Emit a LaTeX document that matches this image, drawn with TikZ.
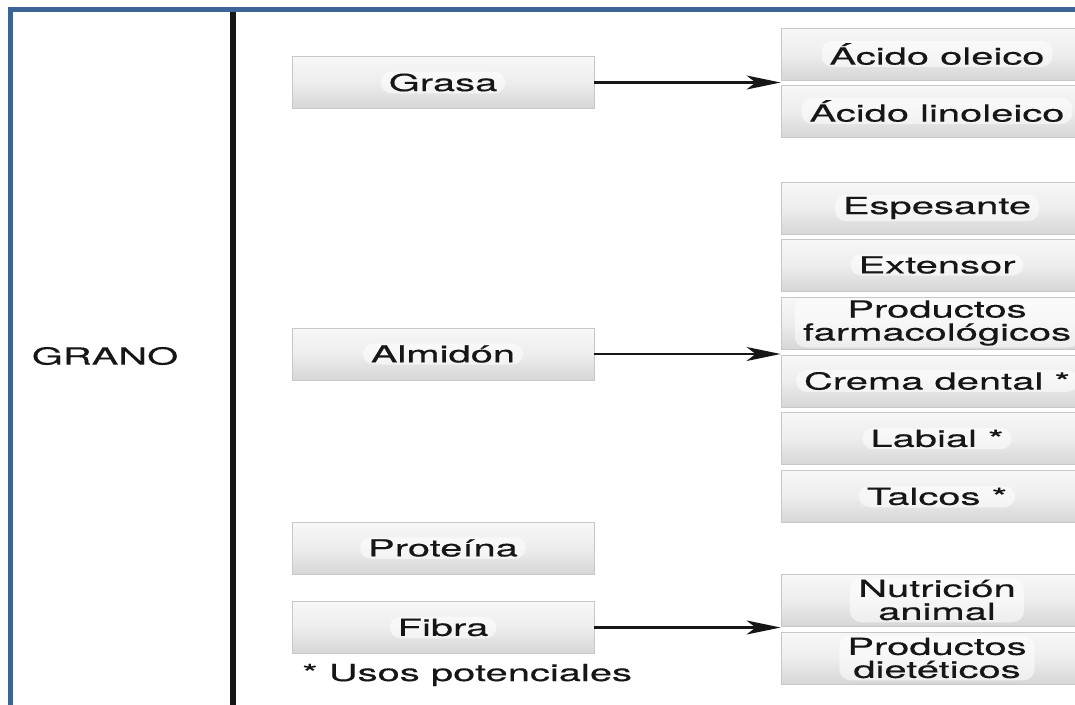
\documentclass[tikz,border=0pt]{standalone}
\usepackage{fontspec}
\setmainfont[FakeStretch=1.7, FakeBold=0.35]{TeX Gyre Heros}
\usetikzlibrary{arrows.meta}
\definecolor{framebl}{RGB}{60,100,150}
\definecolor{boxedge}{RGB}{200,200,200}
\definecolor{ink}{RGB}{22,22,22}

\tikzset{
  itembox/.style={rectangle, draw=boxedge, line width=0.8pt,
    top color=white!97!black, bottom color=white!84!black,
    middle color=white!93!black,
    minimum height=52pt, inner sep=0pt},
  srcbox/.style={itembox, minimum width=302pt},
  usebox/.style={itembox, minimum width=312pt},
  txt/.style={font=\fontsize{23.5}{23}\selectfont, text=ink},
  lbl/.style={txt, align=center, fill=white, fill opacity=0.55,
    text opacity=1, rounded corners=11pt, inner xsep=8pt, inner ysep=2pt},
  link/.style={line width=2.2pt, ink, -{Stealth[length=34pt, width=14pt, inset=9pt]}},
}

\begin{document}
\begin{tikzpicture}[x=1pt, y=-1pt]
  \useasboundingbox (0,0) rectangle (1075,704);
  \clip (0,0) rectangle (1075,704);
  \fill[white] (0,0) rectangle (1075,704);

  % outer frame and dividing rule
  \draw[framebl, line width=5pt] (1090,9.5) -- (10.5,9.5) -- (10.5,715);
  \draw[line width=6pt, ink] (232.5,12) -- (232.5,715);

  \node[txt] (grano) at (105,356) {GRANO};

  % grain components
  \node[srcbox] (grasa) at (443,82.5) {};
  \node[lbl] (grasaT) at (grasa) {Grasa};
  \node[srcbox] (almidon) at (443,354) {};
  \node[lbl] (almidonT) at (almidon) {Almidón};
  \node[srcbox] (proteina) at (443,548) {};
  \node[lbl] (proteinaT) at (proteina) {Proteína};
  \node[srcbox] (fibra) at (443,627.5) {};
  \node[lbl] (fibraT) at (fibra) {Fibra};

  \node[txt, anchor=base west, inner sep=0pt] (nota) at (302,681) {* Usos potenciales};

  % uses of fat
  \node[usebox] (oleico) at (937,54) {};
  \node[lbl] (oleicoT) at (oleico) {Ácido oleico};
  \node[usebox] (linoleico) at (937,111) {};
  \node[lbl] (linoleicoT) at (linoleico) {Ácido linoleico};

  % uses of starch
  \node[usebox] (espesante) at (937,208) {};
  \node[lbl] (espesanteT) at (espesante) {Espesante};
  \node[usebox] (extensor) at (937,265) {};
  \node[lbl] (extensorT) at (extensor) {Extensor};
  \node[usebox] (farma) at (937,323) {};
  \node[lbl] (farmaT) at (farma) {Productos\\farmacológicos};
  \node[usebox] (crema) at (937,381) {};
  \node[lbl] (cremaT) at (crema) {Crema dental *};
  \node[usebox] (labial) at (937,438.5) {};
  \node[lbl] (labialT) at (labial) {Labial *};
  \node[usebox] (talcos) at (937,496.5) {};
  \node[lbl] (talcosT) at (talcos) {Talcos *};

  % uses of fibre
  \node[usebox] (nutricion) at (937,600) {};
  \node[lbl] (nutricionT) at (nutricion) {Nutrición\\animal};
  \node[usebox] (dieteticos) at (937,658) {};
  \node[lbl] (dieteticosT) at (dieteticos) {Productos\\dietéticos};

  % connectors
  \draw[link] (grasa.east) -- (grasa.east -| oleico.west);
  \draw[link] (almidon.east) -- (almidon.east -| farma.west);
  \draw[link] (fibra.east) -- (fibra.east -| nutricion.west);
\end{tikzpicture}
\end{document}
